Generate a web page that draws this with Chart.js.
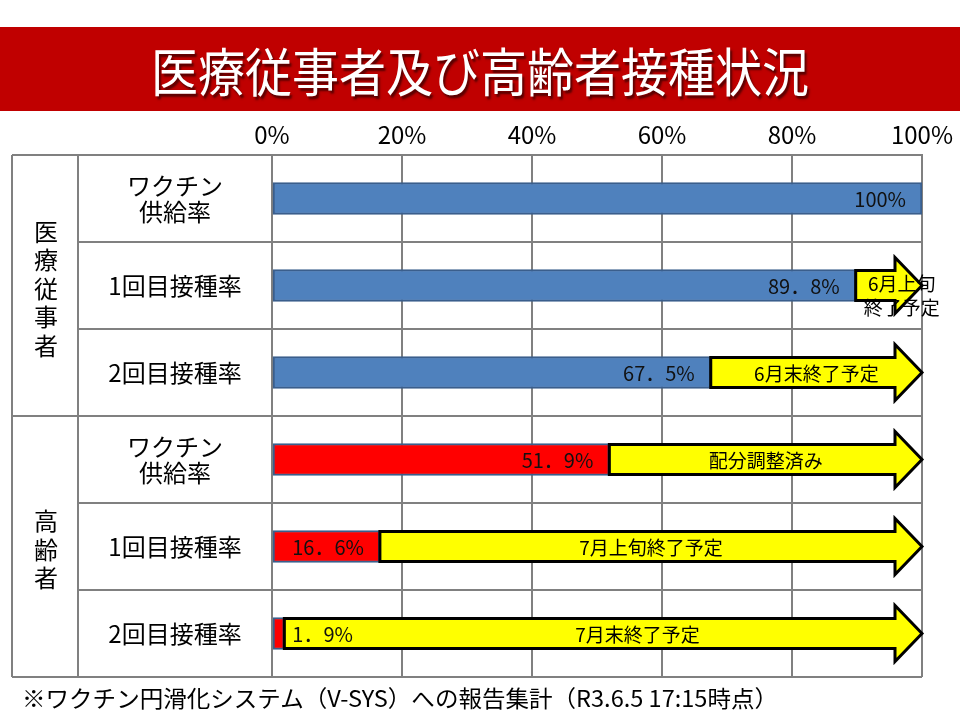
<!DOCTYPE html>
<html lang="ja">
<head>
<meta charset="utf-8">
<title>医療従事者及び高齢者接種状況</title>
<script src="https://cdn.jsdelivr.net/npm/chart.js@4.4.0/dist/chart.umd.min.js"></script>
<style>
  body {
    margin: 0;
    width: 960px;
    height: 720px;
    background: #fff;
    position: relative;
    overflow: hidden;
    font-family: 'Noto Sans CJK JP', sans-serif;
  }
  #banner {
    position: absolute;
    left: 0;
    top: 27px;
    width: 960px;
    height: 84px;
    background: #C00000;
  }
  #banner span {
    position: absolute;
    left: 0;
    top: 0;
    width: 960px;
    color: #fff;
    font-size: 47px;
    line-height: 84px;
    text-align: center;
    text-shadow: 2px 2px 2px rgba(60, 0, 0, 0.8);
    transform: translateY(1px) scaleY(1.12);
  }
  #chart-box {
    position: absolute;
    left: 0;
    top: 110px;
    width: 960px;
    height: 580px;
  }
  #footer {
    position: absolute;
    left: 22px;
    top: 680px;
    font-size: 23px;
    line-height: 34px;
    color: #000;
    white-space: nowrap;
    transform-origin: left center;
  }
</style>
</head>
<body>
<div id="banner"><span>医療従事者及び高齢者接種状況</span></div>
<div id="chart-box"><canvas id="rate-chart"></canvas></div>
<div id="footer">※ワクチン円滑化システム（V-SYS）への報告集計（R3.6.5 17:15時点）</div>

<script>
// データ
const groupNames = ['医療従事者', '高齢者'];
const groupSizes = [3, 3];
const rowLabels = [
    ['ワクチン', '供給率'], ['1回目接種率'], ['2回目接種率'],
    ['ワクチン', '供給率'], ['1回目接種率'], ['2回目接種率']
];
const rates = [100, 89.8, 67.5, 51.9, 16.6, 1.9];
const notes = ['', '6月上旬\n終了予定', '6月末終了予定', '配分調整済み', '7月上旬終了予定', '7月末終了予定'];
const tickValues = [0, 20, 40, 60, 80, 100];

const FONT = "'Noto Sans CJK JP', sans-serif";
const LINE_COLOR = '#808080';

function fmtRate(v) {
    // 元資料は全角ピリオド
    return String(v).replace('.', '．') + '%';
}

// 表の罫線・ラベル + 矢印
const tablePlugin = {
    id: 'tableLayout',
    beforeDatasetsDraw(chart) {
        const { ctx, chartArea: a, scales: { y } } = chart;
        const half = (y.getPixelForValue(1) - y.getPixelForValue(0)) / 2;
        const groupStarts = [0];
        groupSizes.reduce((s, n) => { groupStarts.push(s + n); return s + n; }, 0);

        ctx.save();
        ctx.strokeStyle = LINE_COLOR;
        ctx.lineWidth = 2;

        // 横線
        for (let i = 0; i <= rates.length; i++) {
            const yy = i < rates.length ? y.getPixelForValue(i) - half : y.getPixelForValue(i - 1) + half;
            const x0 = groupStarts.includes(i) ? 12 : 78;
            ctx.beginPath();
            ctx.moveTo(x0, yy);
            ctx.lineTo(a.right, yy);
            ctx.stroke();
        }
        // 縦線
        [12, 78].forEach(x => {
            ctx.beginPath();
            ctx.moveTo(x, a.top);
            ctx.lineTo(x, a.bottom);
            ctx.stroke();
        });

        // 行ラベル
        ctx.fillStyle = '#000';
        ctx.font = '24px ' + FONT;
        ctx.textAlign = 'center';
        ctx.textBaseline = 'middle';
        rowLabels.forEach((lines, i) => {
            const cy = y.getPixelForValue(i);
            lines.forEach((t, k) => {
                ctx.fillText(t, 175, cy + (k - (lines.length - 1) / 2) * 26);
            });
        });

        // グループラベル（縦書き）
        groupNames.forEach((name, g) => {
            const first = groupStarts[g];
            const last = groupStarts[g + 1] - 1;
            const cy = (y.getPixelForValue(first) + y.getPixelForValue(last)) / 2 + 3;
            const chars = [...name];
            chars.forEach((c, k) => {
                ctx.fillText(c, 46, cy + (k - (chars.length - 1) / 2) * 28.5);
            });
        });
        ctx.restore();
    },
    afterDatasetsDraw(chart) {
        const { ctx } = chart;
        const barMeta = chart.getDatasetMeta(0);
        const arrowMeta = chart.getDatasetMeta(1);

        ctx.save();
        // 矢印
        arrowMeta.data.forEach((el, i) => {
            if (!notes[i]) return;
            const p = el.getProps(['x', 'base', 'y', 'height'], true);
            const x0 = p.base, tip = p.x, cy = p.y;
            const hb = tip - 27;
            const hs = p.height / 2 - 1;
            const hh = 28;
            ctx.beginPath();
            ctx.moveTo(x0, cy - hs);
            ctx.lineTo(hb, cy - hs);
            ctx.lineTo(hb, cy - hh);
            ctx.lineTo(tip, cy);
            ctx.lineTo(hb, cy + hh);
            ctx.lineTo(hb, cy + hs);
            ctx.lineTo(x0, cy + hs);
            ctx.closePath();
            ctx.fillStyle = '#FFFF00';
            ctx.fill();
            ctx.lineWidth = 3;
            ctx.strokeStyle = '#000';
            ctx.lineJoin = 'miter';
            ctx.stroke();
        });

        // 棒の数値ラベル
        const labelEnds = [];
        ctx.font = '20px ' + FONT;
        ctx.textBaseline = 'middle';
        ctx.fillStyle = '#111';
        barMeta.data.forEach((el, i) => {
            const p = el.getProps(['x', 'base', 'y'], true);
            const txt = fmtRate(rates[i]);
            const w = ctx.measureText(txt).width;
            if (p.x - p.base > w + 24) {
                ctx.textAlign = 'right';
                ctx.fillText(txt, p.x - 16, p.y + 1);
                labelEnds.push(null);
            } else {
                ctx.textAlign = 'left';
                ctx.fillText(txt, p.x + 8, p.y + 1);
                labelEnds.push(p.x + 8 + w);
            }
        });

        // 矢印内の注記
        ctx.font = '19px ' + FONT;
        ctx.fillStyle = '#000';
        ctx.textAlign = 'center';
        arrowMeta.data.forEach((el, i) => {
            if (!notes[i]) return;
            const p = el.getProps(['x', 'base', 'y'], true);
            const lines = notes[i].split('\n');
            if (lines.length > 1) {
                const mw = Math.max(...lines.map(t => ctx.measureText(t).width));
                const cx = p.base + 8 + mw / 2;
                lines.forEach((t, k) => ctx.fillText(t, cx, p.y - 2 + k * 24));
            } else {
                const start = labelEnds[i] != null ? labelEnds[i] : p.base;
                ctx.fillText(lines[0], (start + p.x) / 2, p.y + 1);
            }
        });
        ctx.restore();
    }
};

const ctx = document.getElementById('rate-chart').getContext('2d');
new Chart(ctx, {
    type: 'bar',
    data: {
        labels: rowLabels.map(l => l.join('')),
        datasets: [
            {
                data: rates,
                backgroundColor: rates.map((v, i) => i < groupSizes[0] ? '#4F81BD' : '#FF0000'),
                borderColor: '#3A5E8C',
                borderWidth: 2,
                borderSkipped: false,
                barThickness: 32,
                grouped: false
            },
            {
                data: rates.map((v, i) => notes[i] ? [v, 100] : null),
                backgroundColor: 'rgba(0,0,0,0)',
                borderWidth: 0,
                barThickness: 32,
                grouped: false
            }
        ]
    },
    options: {
        indexAxis: 'y',
        responsive: true,
        maintainAspectRatio: false,
        animation: false,
        layout: { padding: { left: 272, right: 38, top: 0, bottom: 13 } },
        plugins: {
            legend: { display: false },
            tooltip: { enabled: false }
        },
        scales: {
            x: {
                position: 'top',
                min: 0,
                max: 100,
                afterBuildTicks: s => { s.ticks = tickValues.map(v => ({ value: v })); },
                afterFit: s => { s.height = 45; },
                ticks: {
                    padding: 6,
                    color: '#000',
                    font: { family: FONT, size: 24 },
                    callback: v => v + '%'
                },
                grid: { color: LINE_COLOR, lineWidth: 2, drawTicks: false },
                border: { display: true, color: LINE_COLOR, width: 2 }
            },
            y: {
                display: false
            }
        }
    },
    plugins: [tablePlugin]
});

// 注記の幅を元資料に合わせる
const footer = document.getElementById('footer');
const fw = footer.getBoundingClientRect().width;
footer.style.transform = 'scaleX(' + (756 / fw) + ')';
</script>
</body>
</html>
